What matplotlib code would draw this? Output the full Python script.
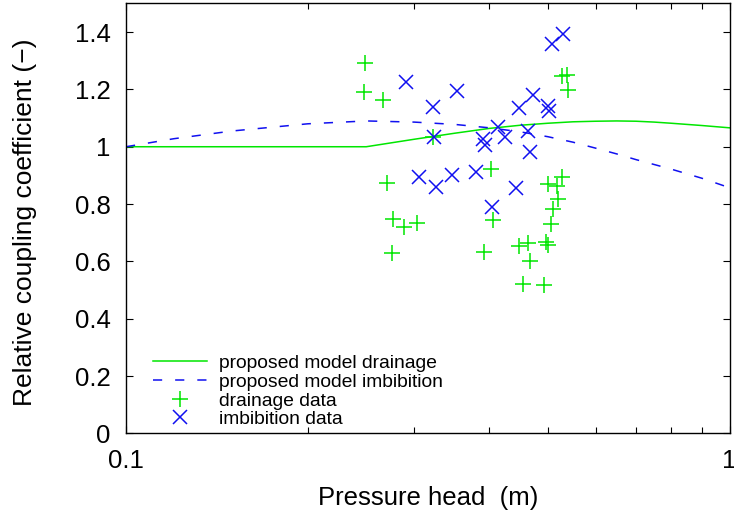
import matplotlib
matplotlib.use("Agg")
import matplotlib.pyplot as plt
from matplotlib.ticker import LogLocator, NullFormatter, FixedLocator

plt.rcParams['font.family'] = ['Liberation Sans', 'DejaVu Sans']

# model curves
model_h = [0.1, 0.12, 0.15, 0.2, 0.25, 0.3, 0.35, 0.4, 0.45, 0.5, 0.55, 0.6, 0.65, 0.7, 0.75,
           0.8, 0.9, 1.0]
model_drain = [1.0, 1.0, 1.0, 1.0, 1.0, 1.026, 1.047, 1.064, 1.075, 1.082, 1.087, 1.089, 1.09,
               1.089, 1.086, 1.082, 1.074, 1.066]
model_imb = [1.0, 1.028, 1.055, 1.08, 1.09, 1.086, 1.078, 1.066, 1.052, 1.035, 1.016, 0.995,
             0.975, 0.955, 0.938, 0.922, 0.89, 0.857]

# measured data
drain_h = [0.249, 0.248, 0.267, 0.323, 0.271, 0.277, 0.289, 0.304, 0.276, 0.402,
           0.405, 0.392, 0.447, 0.464, 0.467, 0.455, 0.493, 0.501, 0.517, 0.528,
           0.520, 0.509, 0.505, 0.496, 0.501, 0.528, 0.538, 0.540]
drain_c = [1.291, 1.190, 1.163, 1.033, 0.872, 0.748, 0.719, 0.733, 0.628, 0.922,
           0.744, 0.632, 0.654, 0.665, 0.601, 0.520, 0.518, 0.869, 0.863, 0.893,
           0.817, 0.783, 0.730, 0.669, 0.657, 1.247, 1.250, 1.198]

imb_h = [0.291, 0.322, 0.354, 0.324, 0.306, 0.326, 0.347, 0.380, 0.530, 0.507,
         0.473, 0.447, 0.501, 0.502, 0.414, 0.425, 0.463, 0.391, 0.394, 0.467,
         0.443, 0.404]
imb_c = [1.225, 1.140, 1.195, 1.033, 0.895, 0.860, 0.901, 0.913, 1.393, 1.358,
         1.180, 1.134, 1.142, 1.126, 1.070, 1.035, 1.056, 1.026, 1.006, 0.983,
         0.855, 0.789]

green = '#00e600'
blue = '#1010f0'

fig = plt.figure(figsize=(7.34, 5.17), dpi=100)
ax = fig.add_axes([0.1717, 0.1617, 0.8223, 0.8317])

ax.plot(model_h, model_drain, '-', color=green, lw=1.1, label='proposed model drainage')
ax.plot(model_h, model_imb, color=blue, lw=1.1, dashes=(6, 8.5), label='proposed model imbibition')
ax.plot(drain_h, drain_c, '+', color=green, ms=12, mew=1.1, ls='none', label='drainage data')
ax.plot(imb_h, imb_c, 'x', color=blue, ms=10, mew=1.1, ls='none', label='imbibition data')

ax.set_xscale('log')
ax.set_xlim(0.1, 1)
ax.set_ylim(0, 1.5)
ax.xaxis.set_major_locator(FixedLocator([0.1, 1]))
ax.set_xticklabels(['0.1', '1'])
ax.xaxis.set_minor_locator(LogLocator(base=10, subs=range(2, 10)))
ax.xaxis.set_minor_formatter(NullFormatter())
yt = [0, 0.2, 0.4, 0.6, 0.8, 1.0, 1.2, 1.4]
ax.set_yticks(yt)
ax.set_yticklabels(['0', '0.2', '0.4', '0.6', '0.8', '1', '1.2', '1.4'])

ax.tick_params(which='both', direction='in', top=True, right=True, labelsize=18.5, width=0.8)
ax.tick_params(which='major', length=5, pad=11)
ax.tick_params(which='minor', length=4)
for s in ax.spines.values():
    s.set_linewidth(1.0)

ax.set_xlabel('Pressure head  (m)', fontsize=18.5)
ax.set_ylabel('Relative coupling coefficient (\u2212)', fontsize=19)
ax.xaxis.set_label_coords(0.5, -0.122)
ax.yaxis.set_label_coords(-0.147, 0.492)

ax.legend(loc='lower left', bbox_to_anchor=(0.045, 0.012), frameon=False, fontsize=13.9,
          handlelength=2.8, handletextpad=0.62, labelspacing=0.06, borderpad=0,
          borderaxespad=0, numpoints=1)

fig.savefig('out.png', dpi=100)
